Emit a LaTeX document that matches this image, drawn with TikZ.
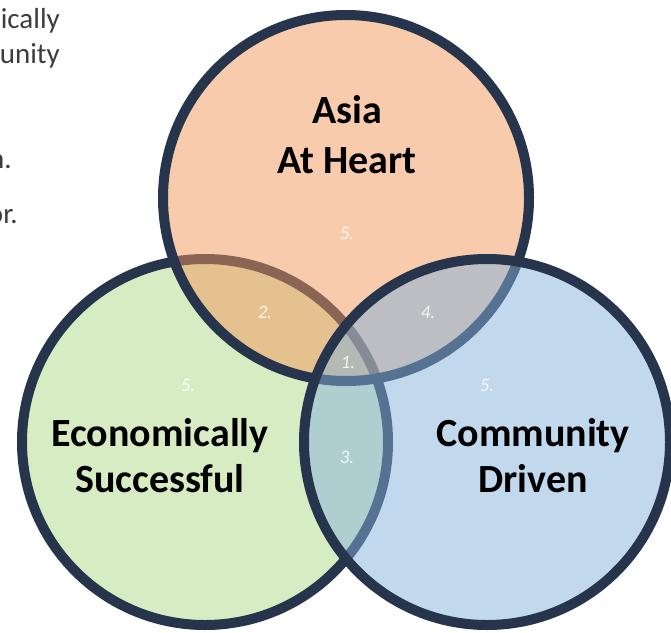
\documentclass[tikz,border=0pt]{standalone}
\usepackage{fontspec}
\setsansfont{Carlito}
\usetikzlibrary{positioning}

\definecolor{ringline}{RGB}{38,52,76}
\definecolor{asiafill}{RGB}{241,151,91}
\definecolor{econfill}{RGB}{177,217,137}
\definecolor{commfill}{RGB}{132,177,219}
\definecolor{sidetext}{RGB}{60,60,60}

\begin{document}
\begin{tikzpicture}[
    x=1pt, y=-1pt,
    font=\sffamily,
    ring/.style={
        circle,
        draw=ringline,
        line width=10pt,
        minimum size=366pt,
        inner sep=0pt,
        fill opacity=0.5
    },
    title/.style={
        align=center,
        text=black,
        font=\sffamily\bfseries\fontsize{40}{46}\selectfont
    },
    num/.style={text=white, text opacity=0.85,
        font=\sffamily\itshape\fontsize{19}{21}\selectfont},
    cut/.style={anchor=base east, inner sep=0pt, text=sidetext,
        font=\sffamily\fontsize{29}{33}\selectfont}
]
\useasboundingbox (0,0) rectangle (671,632);
\clip (0,0) rectangle (671,632);

% the three circles
\node[ring, fill=econfill] (econ) at (205,442) {};
\node[ring, fill=asiafill] (asia) at (346,198) {};
\node[ring, fill=commfill] (comm) at (487,442) {};

% titles
\node[title, font=\sffamily\bfseries\fontsize{40}{50}\selectfont] (asiatxt) at (347,135) {Asia\\At Heart};
\node[title] (econtxt) at (160,456) {Economically\\Successful};
\node[title] (commtxt) at (533,456) {Community\\Driven};

% region numbers
\node[num] (n1) at (348,362) {1.};
\node[num] (n2) at (265,312) {2.};
\node[num] (n3) at (347,457) {3.};
\node[num] (n4) at (428,312) {4.};
\node[num] (n5a) at (347,233) {5.};
\node[num] (n5b) at (188,385) {5.};
\node[num] (n5c) at (487,385) {5.};

% text cut off at the left edge
\node[cut] (side1) at (60,28) {ically};
\node[cut] (side2) at (60,63) {unity};
\node[cut] (side3) at (12,168) {n.};
\node[cut] (side4) at (18,223) {or.};

\end{tikzpicture}
\end{document}
